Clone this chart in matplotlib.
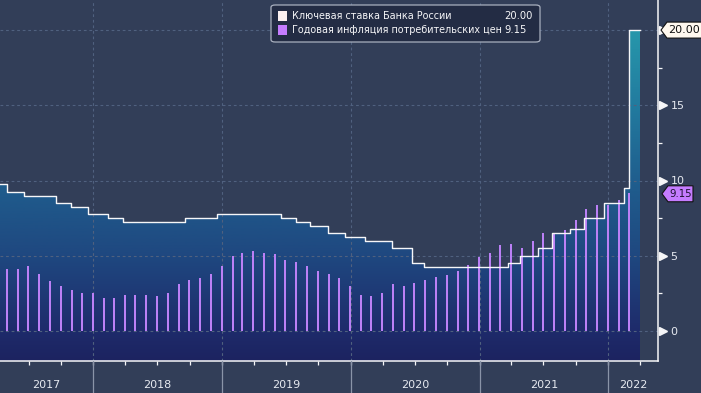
import matplotlib
matplotlib.use("Agg")
import matplotlib.pyplot as plt
import matplotlib.dates as mdates
import matplotlib.transforms as mtrans
from matplotlib.colors import LinearSegmentedColormap
from matplotlib.patches import Polygon, FancyBboxPatch, Rectangle
import numpy as np
import pandas as pd

# ---------------- data ----------------
rate_dates = ["2017-03-27", "2017-05-02", "2017-06-19", "2017-09-18", "2017-10-30",
              "2017-12-18", "2018-02-12", "2018-03-26", "2018-09-17", "2018-12-17",
              "2019-06-17", "2019-07-29", "2019-09-09", "2019-10-28", "2019-12-16",
              "2020-02-10", "2020-04-27", "2020-06-22", "2020-07-27", "2021-03-22",
              "2021-04-26", "2021-06-15", "2021-07-26", "2021-09-13", "2021-10-25",
              "2021-12-20", "2022-02-14", "2022-02-28", "2022-04-01"]
rate_values = [9.75, 9.25, 9.00, 8.50, 8.25,
               7.75, 7.50, 7.25, 7.50, 7.75,
               7.50, 7.25, 7.00, 6.50, 6.25,
               6.00, 5.50, 4.50, 4.25, 4.50,
               5.00, 5.50, 6.50, 6.75, 7.50,
               8.50, 9.50, 20.00, 20.00]

cpi_start = "2017-04"
cpi_values = [4.1, 4.1, 4.3, 3.8, 3.3, 3.0, 2.7, 2.5, 2.5,
              2.2, 2.2, 2.4, 2.4, 2.4, 2.3, 2.5, 3.1, 3.4, 3.5, 3.8, 4.3,
              5.0, 5.2, 5.3, 5.2, 5.1, 4.7, 4.6, 4.3, 4.0, 3.8, 3.5, 3.0,
              2.4, 2.3, 2.5, 3.1, 3.0, 3.2, 3.4, 3.6, 3.7, 4.0, 4.4, 4.9,
              5.2, 5.7, 5.8, 5.5, 6.0, 6.5, 6.5, 6.7, 7.4, 8.1, 8.4, 8.4,
              8.7, 9.15]

years = [2017, 2018, 2019, 2020, 2021, 2022]
yticks = [0, 5, 10, 15, 20]
ytick_labels = ["0", "5", "10", "15", ""]   # "20" is hidden behind the value tag
legend_labels = ["Ключевая ставка Банка России", "Годовая инфляция потребительских цен"]
legend_values = ["20.00", "9.15"]
last_rate_label = "20.00"
last_cpi_label = "9.15"

# ---------------- style ----------------
BG = "#323e58"
GRID = "#50617f"
WHITE = "#f6f6f8"
PURPLE = "#bb80f6"
PURPLE_TAG = "#c57cff"
TEXT = "#e6e9f0"
plt.rcParams['font.family'] = ['DejaVu Sans']

W, H = 701, 393
fig = plt.figure(figsize=(W / 100, H / 100), dpi=100, facecolor=BG)
ax = fig.add_axes([0, 32 / H, 658 / W, 361 / H])
ax.set_facecolor(BG)

xmin = mdates.date2num(pd.Timestamp("2017-04-11"))
xmax = mdates.date2num(pd.Timestamp("2022-05-22"))

rd = mdates.date2num(pd.to_datetime(rate_dates))
rv = np.array(rate_values)

# gradient area under key rate
cmap = LinearSegmentedColormap.from_list("g", [
    (0.0, "#1c2360"), (2 / 24, "#1e2b6b"), (7 / 24, "#1f4880"),
    (12 / 24, "#1f5e8e"), (17 / 24, "#227b9f"), (22 / 24, "#2697ab"), (1.0, "#2aa2b2")])
grad = np.linspace(0, 1, 256).reshape(-1, 1)
im = ax.imshow(grad, cmap=cmap, origin="lower", aspect="auto",
               extent=[xmin, xmax, -2, 22], zorder=1)
poly = ax.fill_between(rd, rv, -2, step="post", facecolor="none", edgecolor="none")
im.set_clip_path(poly.get_paths()[0], transform=ax.transData)
ax.set_xlim(xmin, xmax)
ax.set_ylim(-2, 22)

# grid
for y in yticks:
    ax.axhline(y, color=GRID, lw=0.8, ls=(0, (2.5, 2.5)), zorder=2)
for yr in years[1:]:
    ax.axvline(mdates.date2num(pd.Timestamp(f"{yr}-01-01")), color=GRID, lw=0.8,
               ls=(0, (2.5, 2.5)), zorder=2)

# cpi bars (month end)
cpi_dates = pd.date_range(cpi_start, periods=len(cpi_values), freq="ME")
ax.bar(mdates.date2num(cpi_dates), cpi_values, width=5.7, color=PURPLE, zorder=3,
       align="center", antialiased=False)

# key rate step line
ax.step(rd, rv, where="post", color=WHITE, lw=1.0, zorder=4)

# spines
for s in ["top", "left"]:
    ax.spines[s].set_visible(False)
ax.spines["right"].set_color(WHITE)
ax.spines["bottom"].set_color(WHITE)
ax.spines["right"].set_linewidth(1.1)
ax.spines["bottom"].set_linewidth(1.1)

# y axis right
ax.yaxis.tick_right()
ax.set_yticks(yticks)
ax.set_yticklabels(ytick_labels)
ax.set_yticks([2.5, 7.5, 12.5, 17.5], minor=True)
ax.tick_params(axis="y", which="major", length=0, pad=9, labelsize=8, labelcolor=TEXT)
ax.tick_params(axis="y", which="minor", length=3, width=0.9, color=WHITE, direction="out")
tri_tr = mtrans.blended_transform_factory(ax.transAxes, ax.transData)
ax.plot([1 + 5 / 658] * len(yticks), yticks, ls="none", marker=">", ms=5.5,
        color=WHITE, mec=WHITE, transform=tri_tr, clip_on=False, zorder=5)

# x axis: quarter ticks
qticks = pd.date_range("2017-07-01", "2022-04-01", freq="QS")
ax.set_xticks(mdates.date2num(qticks))
ax.set_xticklabels([])
ax.tick_params(axis="x", which="major", length=3, width=0.9, color=WHITE, direction="out")

# year separators and labels
sep_tr = mtrans.blended_transform_factory(ax.transData, ax.transAxes)
for yr in years[1:]:
    x = mdates.date2num(pd.Timestamp(f"{yr}-01-01"))
    ax.plot([x, x], [0, -32 / 361], color="#8a94a8", lw=0.9, transform=sep_tr,
            clip_on=False, zorder=5)
for yr in years:
    a = max(mdates.date2num(pd.Timestamp(f"{yr}-01-01")), xmin)
    b = min(mdates.date2num(pd.Timestamp(f"{yr + 1}-01-01")), xmax)
    ax.text((a + b) / 2, -24 / 361, str(yr), transform=sep_tr, ha="center", va="center",
            color=TEXT, fontsize=8, clip_on=False)


# ---------------- figure-pixel helpers ----------------
def fx(px):
    return px / W


def fy(py):
    return 1 - py / H


# legend
fig.patches.append(FancyBboxPatch((fx(271), fy(42)), fx(540) - fx(271), fy(5) - fy(42),
                                  boxstyle="round,pad=0,rounding_size=0.006",
                                  transform=fig.transFigure, facecolor="#232c44",
                                  edgecolor="#a9b0bf", lw=0.9, zorder=10))
sq_colors = ["#fbf0f0", PURPLE_TAG]
rows = [16, 30]
for lab, val, c, r in zip(legend_labels, legend_values, sq_colors, rows):
    fig.patches.append(Rectangle((fx(278), fy(r + 4.5)), fx(9), 9 / H,
                                 transform=fig.transFigure, facecolor=c,
                                 edgecolor="none", zorder=11))
    fig.text(fx(292), fy(r), lab, color=WHITE, fontsize=6.9, va="center", ha="left",
             zorder=12)
    fig.text(fx(504), fy(r), val, color=WHITE, fontsize=7.2, va="center", ha="left",
             zorder=12)


# value tags on right axis
def tag(py, x_tip, x_right, label, face, tc, fs):
    h = 8
    pts = [(fx(x_tip), fy(py)), (fx(x_tip + 6), fy(py - h)), (fx(x_right), fy(py - h)),
           (fx(x_right), fy(py + h)), (fx(x_tip + 6), fy(py + h))]
    fig.patches.append(Polygon(pts, closed=True, transform=fig.transFigure,
                               facecolor=face, edgecolor="#111111", lw=0.8, zorder=20))
    fig.text(fx(x_tip + 7), fy(py), label, color=tc, fontsize=fs, va="center",
             ha="left", zorder=21)


def ypix(v):
    disp = ax.transData.transform((xmin, v))
    return H - disp[1]


tag(ypix(rate_values[-1]), 661, 705, last_rate_label, "#fff8ee", "#111111", 8)
tag(ypix(cpi_values[-1]) + 0.5, 662, 693, last_cpi_label, PURPLE_TAG, "#1c1030", 7.3)

fig.savefig("out.png", dpi=100, facecolor=BG)
